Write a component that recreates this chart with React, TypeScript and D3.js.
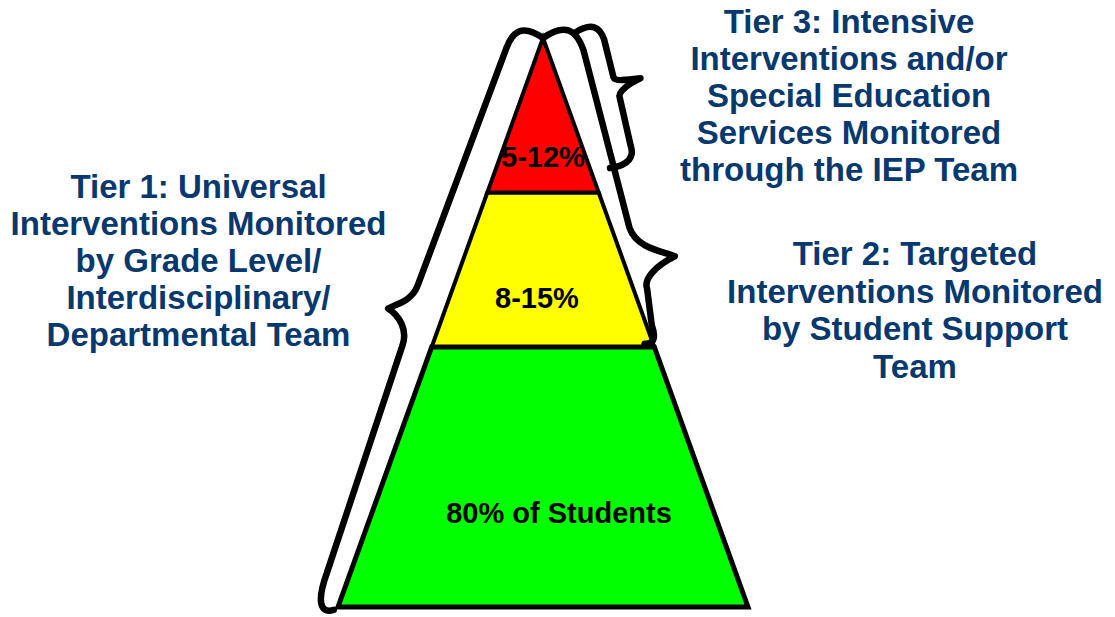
import React from 'react';
import * as d3 from 'd3';

const WIDTH = 1115;
const HEIGHT = 617;

// tiers from top of pyramid to bottom
const TIER_NAMES = ['Tier 3', 'Tier 2', 'Tier 1'];
const TIER_SHARES = ['5-12%', '8-15%', '80% of Students'];
const TIER_COLORS = ['#ff0000', '#ffff00', '#00ff00'];
// cumulative share of pyramid height at each tier edge
const TIER_BOUNDS = [0, 0.272, 0.543, 1];

const TIER3_LINES = [
  'Tier 3: Intensive',
  'Interventions and/or',
  'Special Education',
  'Services Monitored',
  'through the IEP Team',
];
const TIER2_LINES = [
  'Tier 2: Targeted',
  'Interventions Monitored',
  'by Student Support',
  'Team',
];
const TIER1_LINES = [
  'Tier 1: Universal',
  'Interventions Monitored',
  'by Grade Level/',
  'Interdisciplinary/',
  'Departmental Team',
];

const apexX = 543;
const apexY = 38;
const baseY = 607;
const halfBase = 205;

const y = d3.scaleLinear().domain([0, 1]).range([apexY, baseY]);
const half = d3.scaleLinear().domain([0, 1]).range([0, halfBase]);

// where the share labels sit (fraction of height) and their x nudge
const shareY = [0.227, 0.475, 0.852];
const shareDx = [0, -6, 16];

const textColor = '#07386e';
const font = '"Liberation Sans", Arial, sans-serif';

const tierPoly = (i: number) => {
  const t0 = TIER_BOUNDS[i];
  const t1 = TIER_BOUNDS[i + 1];
  const pts: [number, number][] = [
    [apexX - half(t0), y(t0)],
    [apexX + half(t0), y(t0)],
    [apexX + half(t1), y(t1)],
    [apexX - half(t1), y(t1)],
  ];
  return d3.line()(pts) + 'Z';
};

// brace drawn in coordinates along a pyramid edge (u) and out from it (v)
type Brace = {
  u0: number; v0: number; cS: number; dS: number; dU: number;
  tU: number; h: number; kU: number; kL: number; dL: number;
  dE: number; cE: number; u1: number; v1: number;
};

function bracePath(side: 'left' | 'right', b: Brace) {
  const dx = side === 'left' ? -halfBase : halfBase;
  const len = Math.hypot(dx, baseY - apexY);
  const ax = dx / len;
  const ay = (baseY - apexY) / len;
  const nx = side === 'left' ? -ay : ay;
  const ny = side === 'left' ? ax : -ax;
  const P = (u: number, v: number): [number, number] => [
    apexX + ax * u + nx * v,
    apexY + ay * u + ny * v,
  ];
  const p = d3.path();
  const c = (u1: number, v1: number, u2: number, v2: number, u3: number, v3: number) => {
    const a = P(u1, v1), q = P(u2, v2), e = P(u3, v3);
    p.bezierCurveTo(a[0], a[1], q[0], q[1], e[0], e[1]);
  };
  const s = P(b.u0, b.v0);
  p.moveTo(s[0], s[1]);
  c(b.u0 - 0.3 * b.cS, b.v0 + 0.8 * (b.dS - b.v0), b.u0 + 0.2 * b.cS, b.dS, b.u0 + b.cS, b.dS);
  const l1 = P(b.tU - b.kU, b.dU);
  p.lineTo(l1[0], l1[1]);
  c(b.tU - 0.45 * b.kU, b.dU, b.tU - 0.2 * b.kU, b.h - 0.25 * (b.h - b.dU), b.tU, b.h);
  c(b.tU + 0.1 * b.kL, b.h - 0.5 * (b.h - b.dL), b.tU + 0.45 * b.kL, b.dL, b.tU + b.kL, b.dL);
  const l2 = P(b.u1 - b.cE, b.dE);
  p.lineTo(l2[0], l2[1]);
  c(b.u1 - 0.2 * b.cE, b.dE, b.u1 + 0.3 * b.cE, b.v1 + 0.7 * (b.dE - b.v1), b.u1, b.v1);
  return p.toString();
}

const tier1Brace: Brace = {
  u0: 0, v0: 0, cS: 22, dS: 31, dU: 34, tU: 307, h: 54, kU: 32, kL: 30,
  dL: 28, dE: 22, cE: 32, u1: 609, v1: 3,
};
const tier2Brace: Brace = {
  u0: 0, v0: 0, cS: 25, dS: 34, dU: 17, tU: 250, h: 50, kU: 42, kL: 21,
  dL: 13, dE: 5, cE: 15, u1: 322, v1: -8,
};
const tier3Brace: Brace = {
  u0: 6, v0: 31, cS: 16, dS: 57, dU: 53, tU: 71, h: 78, kU: 10, kL: 11,
  dL: 52, dE: 46, cE: 14, u1: 145, v1: 19,
};

const Label = ({ lines, x, y0, step }: { lines: string[]; x: number; y0: number; step: number }) => (
  <text x={x} fill={textColor} fontFamily={font} fontWeight="bold" fontSize={33} textAnchor="middle">
    {lines.map((ln, i) => (
      <tspan key={i} x={x} y={y0 + i * step}>{ln}</tspan>
    ))}
  </text>
);

export default function App() {
  return (
    <svg
      width={WIDTH}
      height={HEIGHT}
      viewBox={`0 0 ${WIDTH} ${HEIGHT}`}
      style={{ position: 'absolute', left: 0, top: 0, background: '#fff' }}
    >
      <rect width={WIDTH} height={HEIGHT} fill="#fff" />
      {TIER_NAMES.map((name, i) => (
        <path
          key={name}
          d={tierPoly(i)}
          fill={TIER_COLORS[i]}
          stroke="#000"
          strokeWidth={i === 2 ? 5 : 4}
          strokeLinejoin="miter"
        />
      ))}
      {TIER_SHARES.map((s, i) => (
        <text
          key={s}
          x={apexX + shareDx[i]}
          y={y(shareY[i])}
          textAnchor="middle"
          fontFamily={font}
          fontWeight="bold"
          fontSize={29}
          fill="#000"
        >
          {s}
        </text>
      ))}
      <g fill="none" stroke="#000" strokeWidth={6.5} strokeLinecap="round" strokeLinejoin="round">
        <path d={bracePath('left', tier1Brace)} />
        <path d={bracePath('right', tier2Brace)} />
        <path d={bracePath('right', tier3Brace)} />
      </g>
      <Label lines={TIER1_LINES} x={198.5} y0={198} step={37} />
      <Label lines={TIER3_LINES} x={849} y0={33} step={37} />
      <Label lines={TIER2_LINES} x={915} y0={265} step={37.5} />
    </svg>
  );
}
